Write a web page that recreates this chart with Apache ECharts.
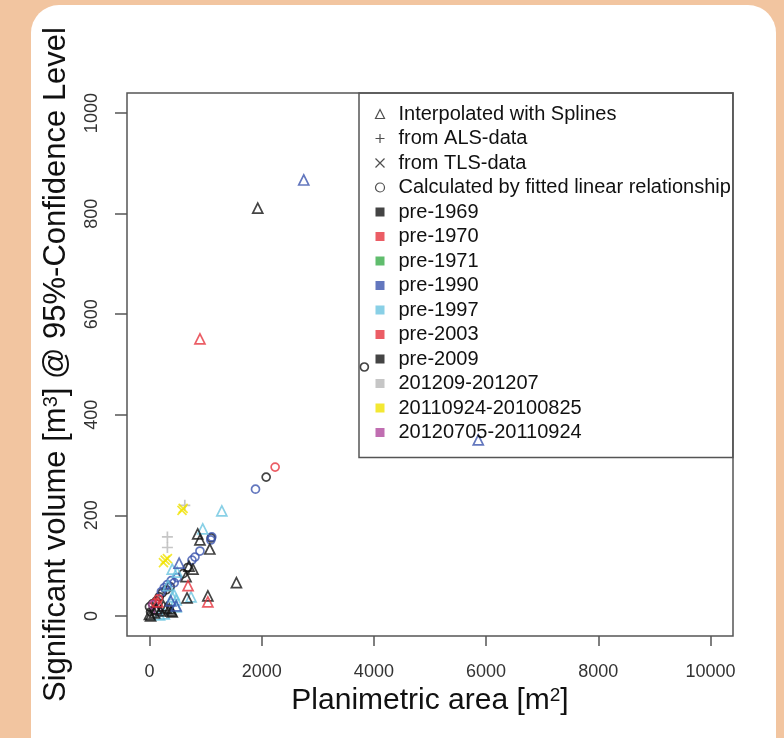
<!DOCTYPE html>
<html>
<head>
<meta charset="utf-8">
<script src="https://cdn.jsdelivr.net/npm/echarts@6/dist/echarts.min.js"></script>
<style>
  html, body { margin: 0; padding: 0; width: 784px; height: 738px; overflow: hidden; background: #f2c5a0; }
  #panel { position: absolute; left: 31px; top: 5px; width: 745px; height: 780px; background: #fff; border-radius: 28px; }
  #chart { position: absolute; left: 0; top: 0; width: 784px; height: 738px; }
</style>
</head>
<body>
<div id="panel"></div>
<div id="chart"></div>
<script>
// axis ticks
const xTicks = [0, 2000, 4000, 6000, 8000, 10000]
const yTicks = [0, 200, 400, 600, 800, 1000]

// legend entries
const shapeNames = ['Interpolated with Splines', 'from ALS-data', 'from TLS-data', 'Calculated by fitted linear relationship']
const groupNames = ['pre-1969', 'pre-1970', 'pre-1971', 'pre-1990', 'pre-1997', 'pre-2003', 'pre-2009',
  '201209-201207', '20110924-20100825', '20120705-20110924']
const groupColors = ['#151515', '#e6353f', '#38ad48', '#3c55ae', '#6cc4e0', '#e6353f', '#151515',
  '#b8b8b8', '#f0e200', '#b04a9e']

// [area m2, volume m3]
const splinesPre1969 = [[1930, 811], [1550, 66], [860, 163], [900, 151], [1076, 133], [705, 99], [776, 93],
  [652, 78], [670, 36], [1041, 40], [388, 10], [300, 16], [20, 0], [0, 3], [88, 6], [194, 10], [353, 14],
  [406, 8], [120, 14], [250, 20]]
const splinesPre1970 = [[900, 551], [688, 60], [1041, 28], [150, 28]]
const splinesPre1990 = [[2750, 867], [5860, 350], [529, 105], [476, 20], [380, 30]]
const splinesPre1997 = [[1290, 209], [950, 173], [406, 93], [494, 87], [741, 38], [441, 42], [476, 32],
  [180, 2], [265, 4], [406, 38], [476, 18], [330, 60]]
const fittedPre1990 = [[1890, 252], [1111, 157], [1094, 151], [900, 129], [811, 117], [758, 111], [388, 70],
  [317, 62], [264, 56], [212, 48], [441, 66], [494, 76]]
const fittedPre2003 = [[2240, 296], [100, 26], [160, 34]]
const fittedPre2009 = [[3830, 495], [2080, 276], [0, 18], [53, 24], [123, 30], [176, 38], [229, 46],
  [300, 52], [370, 58], [600, 84], [680, 96], [1100, 155], [20, 8], [90, 12]]
const fitted2012 = [[60, 22], [150, 10]]
const alsGray = [[630, 220], [320, 157], [320, 136]]
const tlsYellow = [[580, 210], [280, 111], [250, 106], [320, 114], [600, 214]]

const font = 'Liberation Sans, Arial, sans-serif'
const plusPath = 'path://M0,5L10,5M5,0L5,10'
const crossPath = 'path://M0,0L10,10M10,0L0,10'
const shapeIcons = ['triangle', plusPath, crossPath, 'circle']

function colorOf(name) {
  return groupColors[groupNames.indexOf(name)]
}

function part(name, points, symbol, size) {
  return {
    type: 'scatter',
    name: name,
    data: points,
    symbol: symbol,
    symbolSize: size,
    itemStyle: { color: 'rgba(0,0,0,0)', borderColor: colorOf(name), borderWidth: 1.7 },
    emphasis: { disabled: true },
    silent: true
  }
}

const series = shapeNames.map(n => ({ type: 'scatter', name: n, data: [] }))
  .concat(groupNames.map(n => ({ type: 'scatter', name: n, data: [] })))
  .concat([
    part('pre-2009', fittedPre2009, 'circle', 8),
    part('pre-1990', fittedPre1990, 'circle', 8),
    part('pre-2003', fittedPre2003, 'circle', 8),
    part('20120705-20110924', fitted2012, 'circle', 8),
    part('pre-1997', splinesPre1997, 'triangle', 10),
    part('pre-1969', splinesPre1969, 'triangle', 10),
    part('pre-1970', splinesPre1970, 'triangle', 10),
    part('pre-1990', splinesPre1990, 'triangle', 10),
    part('201209-201207', alsGray, plusPath, 11),
    part('20110924-20100825', tlsYellow, crossPath, 9)
  ])

const legendData = shapeNames.map((n, i) => ({
  name: n,
  icon: shapeIcons[i],
  itemStyle: { color: i === 0 || i === 3 ? '#fff' : 'none', borderColor: '#222', borderWidth: 1.2 }
})).concat(groupNames.map((n, i) => ({
  name: n,
  icon: 'rect',
  itemStyle: { color: groupColors[i], borderWidth: 0 }
})))

const chart = echarts.init(document.getElementById('chart'))
chart.setOption({
  backgroundColor: 'transparent',
  animation: false,
  grid: {
    left: 127, right: 51, top: 93, bottom: 102,
    show: true, borderColor: '#555', borderWidth: 1.5,
    outerBoundsMode: 'none'
  },
  legend: {
    orient: 'vertical',
    left: 359,
    top: 93,
    padding: [11, 2, 15, 14],
    itemGap: 4.5,
    itemWidth: 9,
    itemHeight: 9,
    selectedMode: false,
    borderColor: '#555',
    borderWidth: 1.5,
    backgroundColor: 'transparent',
    textStyle: { fontFamily: font, fontSize: 20, color: '#111', lineHeight: 20, padding: [0, 0, 0, 9] },
    data: legendData
  },
  xAxis: {
    type: 'value',
    min: -400,
    max: 10400,
    splitLine: { show: false },
    axisLine: { show: false, onZero: false },
    axisTick: { show: true, customValues: xTicks, length: 10, lineStyle: { color: '#555', width: 1.5 } },
    axisLabel: { customValues: xTicks, formatter: v => String(v), margin: 27, fontSize: 18, color: '#333', fontFamily: font },
    name: 'Planimetric area [m{sup|2}]',
    nameLocation: 'middle',
    nameGap: 50,
    nameTextStyle: {
      fontFamily: font, fontSize: 30, color: '#111',
      rich: { sup: { fontFamily: font, fontSize: 19, color: '#111', verticalAlign: 'top', padding: [0, 0, 4, 0] } }
    }
  },
  yAxis: {
    type: 'value',
    min: -40,
    max: 1040,
    splitLine: { show: false },
    axisLine: { show: false, onZero: false },
    axisTick: { show: true, customValues: yTicks, length: 12, lineStyle: { color: '#555', width: 1.5 } },
    axisLabel: { customValues: yTicks, formatter: v => String(v), rotate: 90, margin: 26, fontSize: 18, color: '#333', fontFamily: font },
    name: 'Significant volume [m{sup|3}] @ 95%-Confidence Level',
    nameLocation: 'middle',
    nameRotate: 90,
    nameGap: 55,
    nameTextStyle: {
      fontFamily: font, fontSize: 31, color: '#111',
      rich: { sup: { fontFamily: font, fontSize: 20, color: '#111', verticalAlign: 'top', padding: [0, 0, 4, 0] } }
    }
  },
  series: series
})
</script>
</body>
</html>
